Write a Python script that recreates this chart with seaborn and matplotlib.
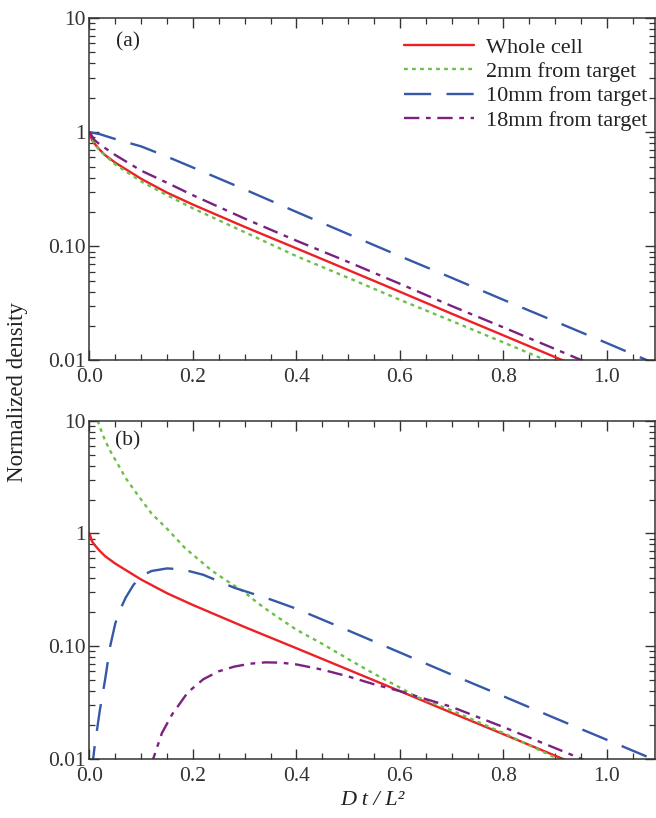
import numpy as np
import pandas as pd
import seaborn as sns
import matplotlib.pyplot as plt
from matplotlib.ticker import LogLocator, MultipleLocator, NullFormatter

# ---- data (x = D t / L^2) ----
labels = ["Whole cell", "2mm from target", "10mm from target", "18mm from target"]

# whole cell (same curve in both panels)
x_whole = [0.0, 0.005, 0.01, 0.02, 0.03, 0.05, 0.1, 0.15, 0.2, 0.3, 0.4, 0.5, 0.6, 0.7, 0.8, 0.9, 1.0, 1.1]
y_whole = [1.0, 0.85, 0.79, 0.70, 0.63, 0.54, 0.39, 0.295, 0.232, 0.148, 0.096, 0.062, 0.040, 0.0257, 0.0166, 0.0107, 0.0069, 0.0045]

# panel (a)
x_a = [0.0, 0.01, 0.02, 0.05, 0.1, 0.15, 0.2, 0.3, 0.4, 0.5, 0.6, 0.7, 0.8, 0.9, 1.0, 1.1]
y_a_2mm = [1.0, 0.78, 0.69, 0.52, 0.37, 0.28, 0.215, 0.133, 0.082, 0.053, 0.034, 0.0222, 0.0144, 0.0093, 0.0060, 0.0039]
y_a_18mm = [1.0, 0.85, 0.78, 0.63, 0.46, 0.36, 0.28, 0.175, 0.112, 0.073, 0.047, 0.030, 0.0195, 0.0126, 0.0081, 0.0053]
x_a_10mm = [0.0, 0.02, 0.05, 0.1, 0.15, 0.2, 0.3, 0.4, 0.5, 0.6, 0.7, 0.8, 0.9, 1.0, 1.1]
y_a_10mm = [1.0, 0.96, 0.87, 0.75, 0.61, 0.49, 0.315, 0.20, 0.128, 0.082, 0.053, 0.034, 0.022, 0.0142, 0.0091]

# panel (b)
x_b_2mm = [0.016, 0.02, 0.03, 0.04, 0.055, 0.07, 0.09, 0.12, 0.15, 0.185, 0.236, 0.262, 0.3, 0.326,
           0.35, 0.4, 0.45, 0.5, 0.55, 0.6, 0.63, 0.7, 0.8, 0.9, 1.0]
y_b_2mm = [10.0, 8.8, 6.7, 5.4, 4.1, 3.1, 2.3, 1.5, 1.1, 0.74, 0.47, 0.39, 0.30, 0.24,
           0.20, 0.14, 0.105, 0.077, 0.057, 0.043, 0.036, 0.027, 0.017, 0.0103, 0.0064]
x_b_10mm = [0.005, 0.0073, 0.01, 0.02, 0.03, 0.04, 0.05, 0.06, 0.07, 0.085, 0.1, 0.12, 0.15, 0.18,
            0.22, 0.28, 0.35, 0.4, 0.5, 0.6, 0.7, 0.8, 0.9, 1.0, 1.1]
y_b_10mm = [0.0075, 0.0102, 0.013, 0.027, 0.05, 0.10, 0.16, 0.215, 0.27, 0.35, 0.42, 0.465, 0.49, 0.48,
            0.43, 0.33, 0.26, 0.215, 0.138, 0.088, 0.056, 0.036, 0.023, 0.0148, 0.0095]
x_b_18mm = [0.115, 0.123, 0.14, 0.16, 0.19, 0.22, 0.25, 0.28, 0.31, 0.34, 0.37, 0.4, 0.45, 0.5,
            0.55, 0.6, 0.65, 0.7, 0.8, 0.9, 1.0]
y_b_18mm = [0.0085, 0.01, 0.017, 0.025, 0.039, 0.051, 0.060, 0.066, 0.070, 0.072, 0.0715, 0.069, 0.062, 0.054,
            0.046, 0.040, 0.034, 0.029, 0.0192, 0.0125, 0.0081]

colors = ["#ee2025", "#6cc04a", "#3558a8", "#7a2182"]
styles = ["-", (0, (1.6, 1.8)), (0, (11.5, 6.5)), (0, (6.5, 2.8, 2, 2.8))]

sns.set_style("ticks")
plt.rcParams["font.family"] = ["Liberation Serif", "DejaVu Serif"]
plt.rcParams["axes.edgecolor"] = "#333333"
plt.rcParams["xtick.color"] = "#333333"
plt.rcParams["ytick.color"] = "#333333"
plt.rcParams["text.color"] = "#222222"

fig = plt.figure(figsize=(6.56, 8.18), dpi=100)
ax_a = fig.add_axes([0.1364, 0.5593, 0.8621, 0.4187])
ax_b = fig.add_axes([0.1364, 0.0721, 0.8621, 0.4136])

panel_a = [(x_whole, y_whole), (x_a, y_a_2mm), (x_a_10mm, y_a_10mm), (x_a, y_a_18mm)]
panel_b = [(x_whole, y_whole), (x_b_2mm, y_b_2mm), (x_b_10mm, y_b_10mm), (x_b_18mm, y_b_18mm)]

for ax, series, tag in [(ax_a, panel_a, "(a)"), (ax_b, panel_b, "(b)")]:
    for (xs, ys), lab, c, ls in zip(series, labels, colors, styles):
        sns.lineplot(x=xs, y=ys, ax=ax, color=c, linestyle=ls, linewidth=1.7,
                     label=lab, legend=False)
    ax.set_yscale("log")
    ax.set_xlim(0, 1.093)
    ax.set_ylim(0.01, 10)
    ax.set_yticks([0.01, 0.1, 1, 10])
    ax.set_yticklabels(["0.01", "0.10", "1", "10"])
    ax.yaxis.set_minor_locator(LogLocator(base=10, subs=np.arange(2, 10)))
    ax.yaxis.set_minor_formatter(NullFormatter())
    ax.xaxis.set_major_locator(MultipleLocator(0.2))
    ax.xaxis.set_minor_locator(MultipleLocator(0.05))
    ax.xaxis.set_major_formatter(plt.FuncFormatter(lambda v, p: f"{v:.1f}"))
    ax.tick_params(which="both", direction="in", top=True, right=True, labelsize=15.5)
    ax.tick_params(axis="x", pad=5.5)
    ax.tick_params(axis="y", pad=2.5)
    ax.tick_params(which="major", length=7, width=1.0)
    ax.tick_params(which="minor", length=4, width=0.9)
    for s in ax.spines.values():
        s.set_linewidth(1.1)
    ax.set_xlabel("")
    ax.set_ylabel("")
    ax.text(0.068, 0.93 if tag == "(a)" else 0.94, tag, transform=ax.transAxes,
            fontsize=15.5, ha="center", va="center")

ax_a.legend(loc="upper left", bbox_to_anchor=(0.532, 0.983), frameon=False, fontsize=16,
            handlelength=3.15, handletextpad=0.55, labelspacing=0.17, borderaxespad=0.2)

fig.text(0.027, 0.521, "Normalized density", rotation=90, ha="center", va="center", fontsize=16.5)
fig.text(0.567, 0.022, "D t / L²", ha="center", va="center", fontsize=16, style="italic")

fig.savefig("out.png", dpi=100)
